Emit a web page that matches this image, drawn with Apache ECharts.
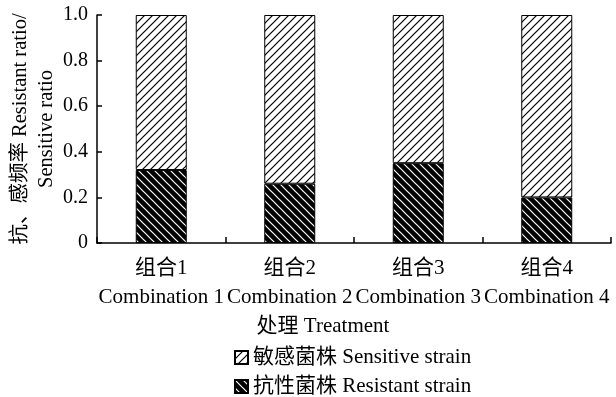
<!DOCTYPE html>
<html>
<head>
<meta charset="utf-8">
<script src="https://cdn.jsdelivr.net/npm/echarts@6/dist/echarts.min.js"></script>
<style>
  html, body { margin: 0; padding: 0; background: #fff; }
  #chart { width: 616px; height: 397px; }
</style>
</head>
<body>
<div id="chart"></div>
<script>
const categories = ['组合1\nCombination 1', '组合2\nCombination 2', '组合3\nCombination 3', '组合4\nCombination 4'];
const resistant = [0.32, 0.26, 0.35, 0.20];
const sensitive = [0.68, 0.74, 0.65, 0.80];
const yTicks = ['0', '0.2', '0.4', '0.6', '0.8', '1.0'];

const FONT = "'Liberation Serif', 'Noto Sans CJK SC', serif";

// diagonal hatch tile; dir 1 = "/", -1 = "\"
function hatch(bg, fg, dir) {
  const s = 8;
  const c = document.createElement('canvas');
  c.width = s; c.height = s;
  const ctx = c.getContext('2d');
  ctx.fillStyle = bg;
  ctx.fillRect(0, 0, s, s);
  ctx.strokeStyle = fg;
  ctx.lineWidth = 1.2;
  ctx.beginPath();
  if (dir > 0) {
    ctx.moveTo(0, s); ctx.lineTo(s, 0);
    ctx.moveTo(-1, 1); ctx.lineTo(1, -1);
    ctx.moveTo(s - 1, s + 1); ctx.lineTo(s + 1, s - 1);
  } else {
    ctx.moveTo(0, 0); ctx.lineTo(s, s);
    ctx.moveTo(-1, s - 1); ctx.lineTo(1, s + 1);
    ctx.moveTo(s - 1, -1); ctx.lineTo(s + 1, 1);
  }
  ctx.stroke();
  return { image: c, repeat: 'repeat' };
}

const chart = echarts.init(document.getElementById('chart'), null, { renderer: 'canvas' });

const legendText = { fontFamily: FONT, fontSize: 21, color: '#000' };

let option = {
  animation: false,
  textStyle: { fontFamily: FONT, color: '#000' },
  grid: { left: 97, right: 5, top: 15, bottom: 154, outerBoundsMode: 'none', containLabel: false },
  legend: [
    {
      left: 229, top: 342, itemWidth: 13, itemHeight: 13, icon: 'rect',
      textStyle: legendText,
      data: ['敏感菌株 Sensitive strain']
    },
    {
      left: 229, top: 371, itemWidth: 13, itemHeight: 13, icon: 'rect',
      textStyle: legendText,
      data: ['抗性菌株 Resistant strain']
    }
  ],
  xAxis: {
    type: 'category',
    data: categories,
    name: '处理 Treatment',
    nameLocation: 'middle',
    nameGap: 73,
    nameMoveOverlap: false,
    nameTextStyle: { fontFamily: FONT, fontSize: 21, color: '#000', padding: [0, 62, 0, 0] },
    axisLine: { lineStyle: { color: '#000', width: 1.5 } },
    axisTick: { show: true, inside: true, interval: 0, length: 6, lineStyle: { color: '#000', width: 1.5 } },
    axisLabel: { interval: 0, fontFamily: FONT, fontSize: 21, color: '#000', lineHeight: 29, margin: 11 }
  },
  yAxis: {
    type: 'value',
    min: 0,
    max: 1,
    interval: 0.2,
    name: '抗、感频率 Resistant ratio/\nSensitive ratio',
    nameLocation: 'middle',
    nameGap: 37,
    nameMoveOverlap: false,
    nameRotate: 90,
    nameTextStyle: { fontFamily: FONT, fontSize: 20.5, color: '#000', lineHeight: 26 },
    splitLine: { show: false },
    axisLine: { show: true, lineStyle: { color: '#000', width: 1.5 } },
    axisTick: { show: true, inside: true, length: 5, lineStyle: { color: '#000', width: 1.5 } },
    axisLabel: {
      fontFamily: FONT, fontSize: 20, color: '#000', margin: 9,
      formatter: function (v) { return yTicks[Math.round(v / 0.2)]; }
    }
  },
  series: [
    {
      name: '抗性菌株 Resistant strain',
      type: 'bar',
      stack: 'ratio',
      barWidth: 51,
      itemStyle: { color: hatch('#000', '#fff', -1), borderColor: '#000', borderWidth: 1 },
      data: resistant
    },
    {
      name: '敏感菌株 Sensitive strain',
      type: 'bar',
      stack: 'ratio',
      barWidth: 51,
      itemStyle: { color: hatch('#fff', '#000', 1), borderColor: '#000', borderWidth: 1 },
      data: sensitive
    }
  ]
};

chart.setOption(option);
</script>
</body>
</html>
